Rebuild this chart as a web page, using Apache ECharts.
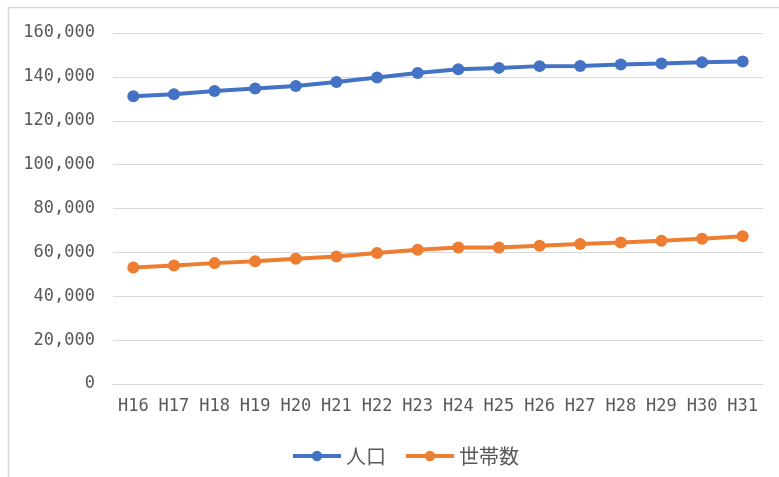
<!DOCTYPE html>
<html>
<head>
<meta charset="utf-8">
<script src="https://cdn.jsdelivr.net/npm/echarts@6/dist/echarts.min.js"></script>
<style>html,body{margin:0;padding:0;background:#fff;}#c{width:779px;height:477px;}</style>
</head>
<body>
<div id="c"></div>
<script>
const categories = ['H16','H17','H18','H19','H20','H21','H22','H23','H24','H25','H26','H27','H28','H29','H30','H31'];
const population = [131200,132100,133600,134700,135800,137700,139700,141800,143500,144100,144900,145000,145600,146100,146700,147000];
const households = [53100,54000,55100,56000,57100,58100,59700,61200,62200,62200,63000,63800,64500,65300,66200,67300];
const seriesNames = ['人口','世帯数'];
const yTicks = {min:0, max:160000, interval:20000};

const labelFont = 'DejaVu Sans Mono';
const chart = echarts.init(document.getElementById('c'));
chart.setOption({
  animation:false,
  graphic:[{type:'polyline',shape:{points:[[8.5,480],[8.5,7.5],[780,7.5]]},style:{stroke:'#d9d9d9',lineWidth:1.5,fill:null}}],
  grid:{left:113,right:16,top:33,bottom:93,containLabel:false},
  legend:{
    bottom:6,left:286,itemWidth:48,itemHeight:13,itemGap:18,
    lineStyle:{width:4},
    textStyle:{fontFamily:'Noto Sans CJK JP',fontSize:20,color:'#595959'},
    data:seriesNames
  },
  xAxis:{
    type:'category',data:categories,boundaryGap:true,
    axisLine:{lineStyle:{color:'#d9d9d9',width:1}},
    axisTick:{show:false},
    axisLabel:{fontFamily:labelFont,fontSize:17,color:'#595959',margin:14,interval:0}
  },
  yAxis:{
    type:'value',min:yTicks.min,max:yTicks.max,interval:yTicks.interval,
    axisLine:{show:false},axisTick:{show:false},
    splitLine:{lineStyle:{color:'#d9d9d9',width:1}},
    axisLabel:{fontFamily:labelFont,fontSize:17,color:'#595959',margin:18,
      formatter:v=>v.toLocaleString('en-US')}
  },
  series:[
    {name:seriesNames[0],type:'line',data:population,symbol:'circle',symbolSize:12,
     lineStyle:{width:4,color:'#4472C4'},itemStyle:{color:'#4472C4'}},
    {name:seriesNames[1],type:'line',data:households,symbol:'circle',symbolSize:12,
     lineStyle:{width:4,color:'#ED7D31'},itemStyle:{color:'#ED7D31'}}
  ]
});
</script>
</body>
</html>
